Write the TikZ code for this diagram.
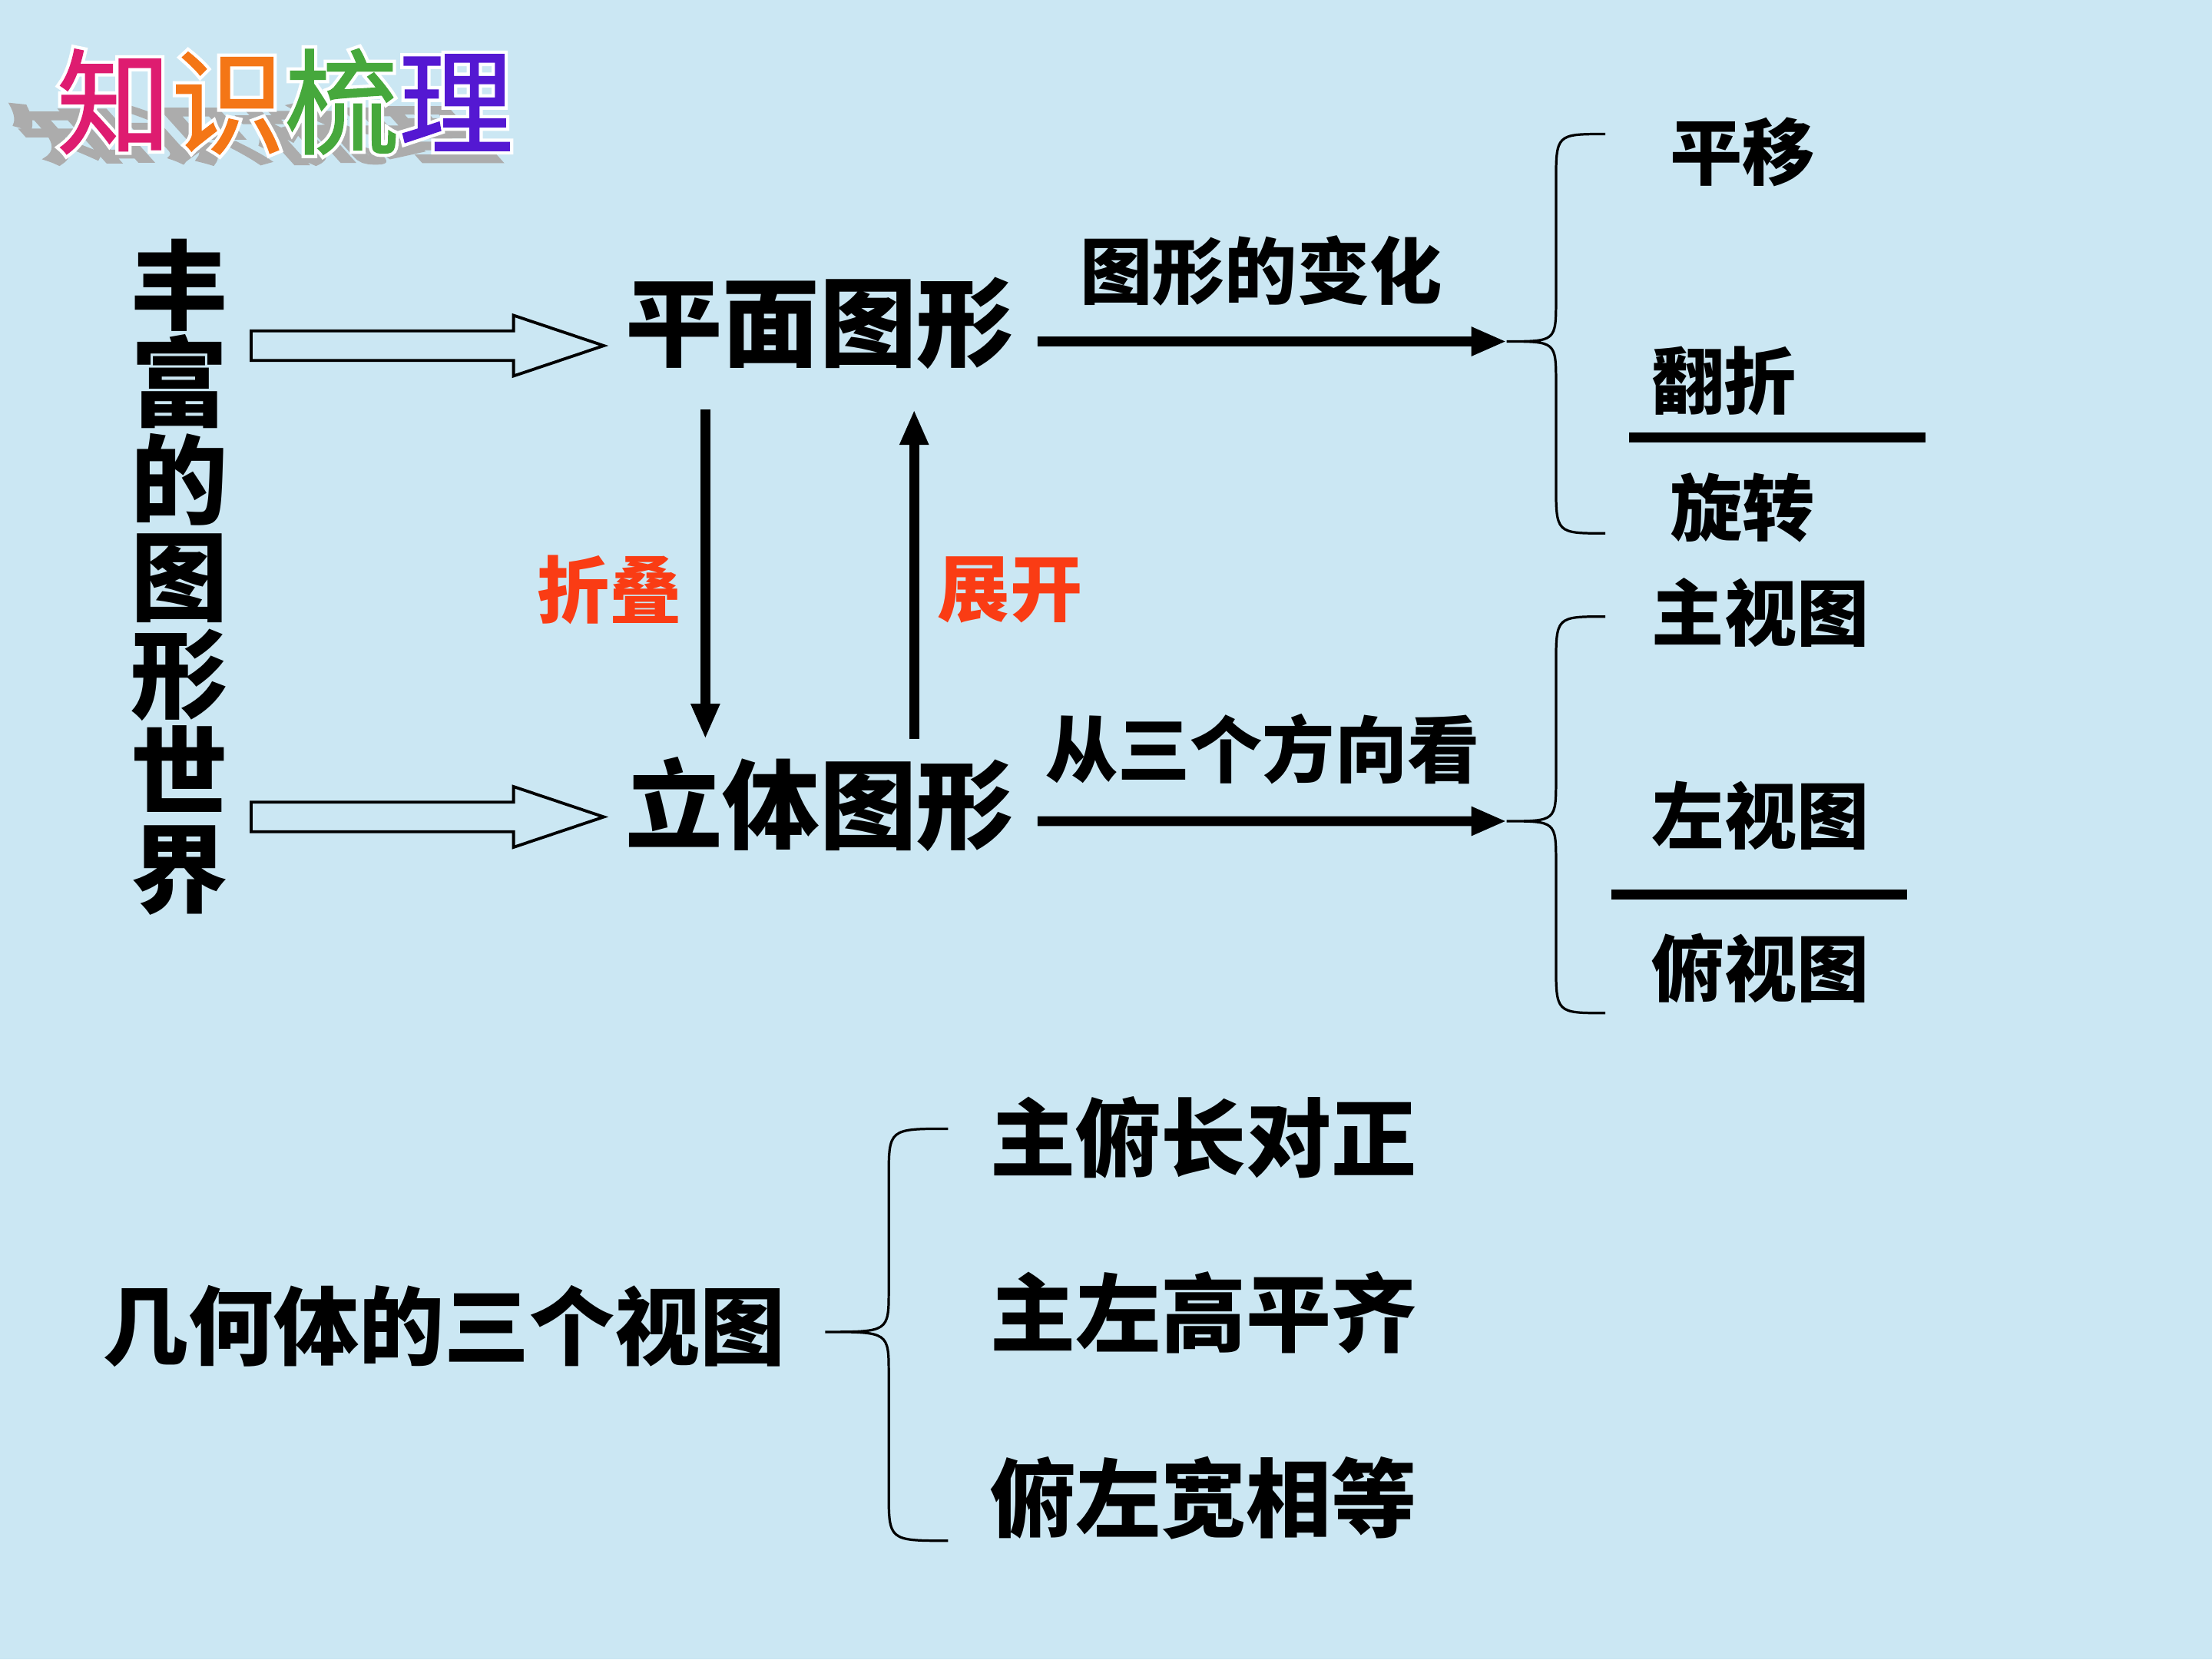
\documentclass[tikz,border=0pt]{standalone}
\usepackage{fontspec}
\setmainfont{Noto Sans CJK SC}
\newfontfamily\titlefont{Noto Sans CJK SC}[FakeBold=1.2]
\newfontfamily\titlehalo{Noto Sans CJK SC}[FakeBold=7]
\usetikzlibrary{arrows.meta}
\definecolor{bgblue}{RGB}{203,231,243}
\definecolor{foldred}{RGB}{250,60,20}
\definecolor{tzhi}{RGB}{222,28,112}
\definecolor{tshi}{RGB}{244,118,22}
\definecolor{tshu}{RGB}{70,168,60}
\definecolor{tli}{RGB}{84,24,210}
\newcommand{\titletext}{{\color{tzhi}知}{\color{tshi}识}{\color{tshu}梳}{\color{tli}理}}
\begin{document}
\begin{tikzpicture}[x=0.1mm, y=-0.1mm, >={Triangle[length=2.5mm,width=1.9mm]},
    big/.style={font=\bfseries\fontsize{19.6}{19.6}\selectfont, inner sep=0pt},
    mid/.style={font=\bfseries\fontsize{14.6}{14.6}\selectfont, inner sep=0pt},
    low/.style={font=\bfseries\fontsize{17.2}{17.2}\selectfont, inner sep=0pt},
    foldlab/.style={mid, text=foldred},
    titlef/.style={font=\titlefont\fontsize{23}{23}\selectfont, inner sep=0pt},
    titleh/.style={font=\titlehalo\fontsize{23}{23}\selectfont, inner sep=0pt},
    arr/.style={->, line width=2pt},
    bar/.style={line width=2pt},
    brace/.style={line width=0.5pt},
    hollow/.style={line width=0.6pt}]
    \useasboundingbox (0,0) rectangle (1568,1176);
    \fill[bgblue] (0,0) rectangle (1568,1176);
    % title
    \node[titleh, text=gray!65, transform shape, xslant=-0.9, yscale=0.55, anchor=south] at (196,116) {知识梳理};
    \node[titleh, text=white] at (202,72) {知识梳理};
    \node[titlef] (title) at (202,72) {\titletext};
    % main nodes
    \node[big, align=center] (world) at (127,409) {丰\\富\\的\\图\\形\\世\\界};
    \node[big] (plane) at (581,229) {平面图形};
    \node[big] (solid) at (581,570) {立体图形};
    \node[foldlab] (fold) at (432,418) {折叠};
    \node[foldlab] (unfold) at (716,418) {展开};
    \node[mid] (change) at (894,192) {图形的变化};
    \node[mid] (look) at (895,531) {从三个方向看};
    \node[mid] (shift) at (1235,108) {平移};
    \node[mid] (flip) at (1222,270) {翻折};
    \node[mid] (turn) at (1235,360) {旋转};
    \node[mid] (front) at (1248,434) {主视图};
    \node[mid] (left) at (1248,578) {左视图};
    \node[mid] (top) at (1248,686) {俯视图};
    \node[low] (three) at (315,940) {几何体的三个视图};
    \node[low] (ruleA) at (853,806) {主俯长对正};
    \node[low] (ruleB) at (853,930) {主左高平齐};
    \node[low] (ruleC) at (853,1062) {俯左宽相等};
    % hollow arrows
    \foreach \y in {245,579}
        \draw[hollow] (178,{\y-10.5}) -- (364,{\y-10.5}) -- (364,{\y-21.5}) -- (428,\y)
            -- (364,{\y+21.5}) -- (364,{\y+10.5}) -- (178,{\y+10.5}) -- cycle;
    % fold / unfold
    \draw[arr] ([xshift=-8.1mm,yshift=-2.8mm]plane.south) -- ([xshift=-8.1mm,yshift=1.2mm]solid.north);
    \draw[arr] ([xshift=6.7mm,yshift=1.2mm]solid.north) -- ([xshift=6.7mm,yshift=-2.8mm]plane.south);
    % braces
    \coordinate (tipA) at (1068,242);
    \coordinate (tipB) at (1068,582);
    \coordinate (tipC) at (585,944);
    \foreach \tx/\lx/\ex/\t/\a/\b in {1068/1103/1138/242/95/378, 1068/1103/1138/582/437/718, 585/630/672/944/800/1092}
        \draw[brace] (\ex,\a) .. controls (\lx,\a) .. (\lx,{\a+35}) -- (\lx,{\t-30})
            .. controls (\lx,\t) .. (\tx,\t) .. controls (\lx,\t) .. (\lx,{\t+30})
            -- (\lx,{\b-35}) .. controls (\lx,\b) .. (\ex,\b);
    \draw[arr] ([xshift=1.6mm,yshift=-1.3mm]plane.east) -- (tipA);
    \draw[arr] ([xshift=1.6mm,yshift=-1.2mm]solid.east) -- (tipB);
    % fraction bars
    \draw[bar] (1155,310) -- (1365,310);
    \draw[bar] (1142,634) -- (1352,634);
\end{tikzpicture}
\end{document}
